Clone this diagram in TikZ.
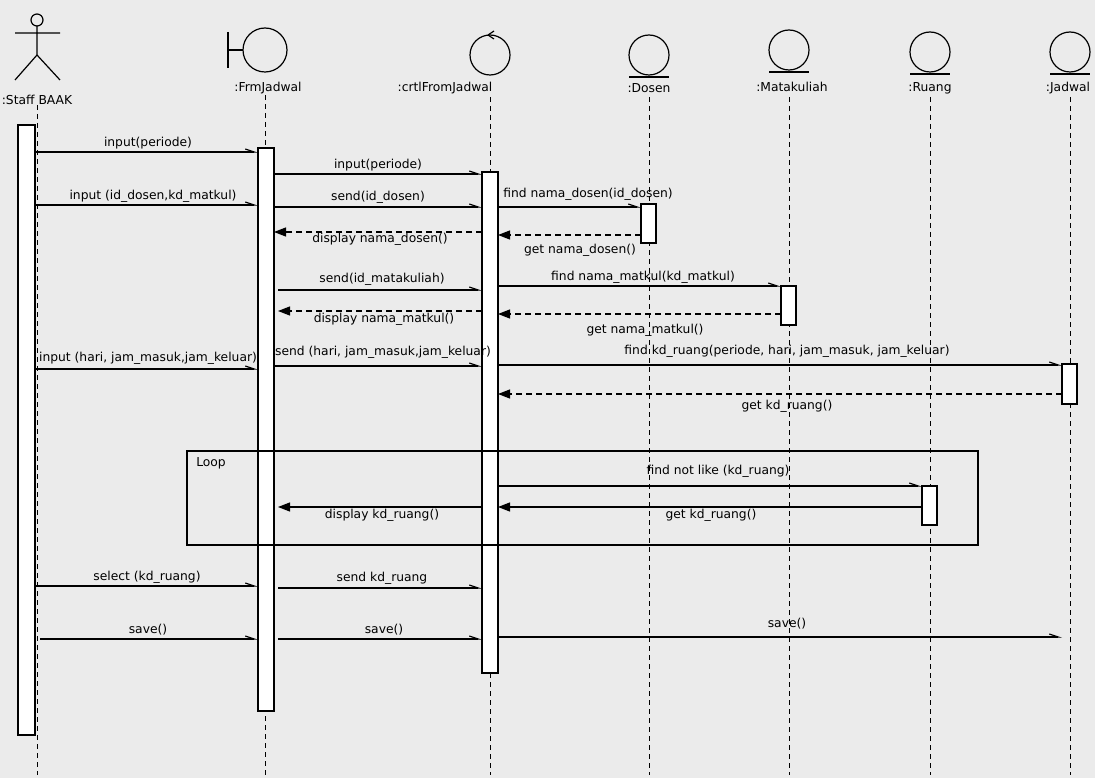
\documentclass[tikz,border=0pt]{standalone}
\usepackage{fontspec}
\setmainfont{DejaVu Sans}
\usetikzlibrary{arrows.meta}
\begin{document}
\begin{tikzpicture}[x=1pt,y=-1pt,line width=1.2pt,
  lbl/.style={font=\fontsize{12.3}{14}\selectfont,inner sep=0pt},
  life/.style={dashed,dash pattern=on 5pt off 4pt,line width=0.8pt},
  act/.style={draw,fill=white,line width=1.2pt},
  sync/.style={-{Straight Barb[length=9pt,width=6pt,left]}},
  ret/.style={dashed,dash pattern=on 6pt off 4pt,-{Triangle[length=12pt,width=9pt]}},
  rets/.style={-{Triangle[length=12pt,width=9pt]}}]
\fill[black!8] (0,0) rectangle (1095,778);
\useasboundingbox (0,0) rectangle (1095,778);
% lifelines
\foreach \x/\t in {37/105,265/95,490/97,649/97,789/97,930/97,1070/97}
  \draw[life] (\x,\t) -- (\x,775);
% actor
\draw (37,20) circle (6);
\draw (37,26) -- (37,55) (15,33) -- (60,33) (15,80) -- (37,55) -- (60,80);
\node[lbl] (staff) at (37,100) {:Staff BAAK};
% boundary
\draw (265,50) circle (22);
\draw (228,32) -- (228,68) (228,50) -- (243,50);
\node[lbl] (frm) at (268,88) {:FrmJadwal};
% control
\draw (490,55) circle (20);
\draw (488,35) -- (494,31) (488,35) -- (494,39);
\node[lbl] (ctrl) at (445,88) {:crtlFromJadwal};
% entities
\foreach \x/\n/\yy/\ly in {649/Dosen/55/88,789/Matakuliah/50/87,930/Ruang/52/88,1070/Jadwal/52/88}{
  \draw (\x,\yy) circle (20);
  \draw (\x-20,\yy+22) -- (\x+20,\yy+22);
}
\node[lbl] (dos) at (649,88) {:Dosen};
\node[lbl] (mk) at (792,87) {:Matakuliah};
\node[lbl] (ru) at (930,88) {:Ruang};
\node[lbl] (jd) at (1068,88) {:Jadwal};
% activations
\draw[act] (18,125) rectangle (35,735);
\draw[act] (258,148) rectangle (274,711);
\draw[act] (482,172) rectangle (498,673);
\draw[act] (641,204) rectangle (656,243);
\draw[act] (781,286) rectangle (796,325);
\draw[act] (1062,364) rectangle (1077,404);
\draw[act] (922,486) rectangle (937,525);
\draw (258,275) -- (258,312);
% messages
\newcommand\msg[6]{\draw[#6] (#2,#1) -- (#3,#1); \node[lbl] at #4 {#5};}
\msg{152}{35}{258}{(148,143)}{input(periode)}{sync}
\msg{174}{274}{482}{(378,165)}{input(periode)}{sync}
\msg{205}{35}{258}{(153,196)}{input (id\_dosen,kd\_matkul)}{sync}
\msg{207}{274}{482}{(378,197)}{send(id\_dosen)}{sync}
\msg{207}{498}{641}{(588,194)}{find nama\_dosen(id\_dosen)}{sync}
\msg{232}{482}{274}{(380,239)}{display nama\_dosen()}{ret}
\msg{235}{641}{498}{(580,250)}{get nama\_dosen()}{ret}
\msg{290}{278}{482}{(382,279)}{send(id\_matakuliah)}{sync}
\msg{286}{498}{781}{(643,277)}{find nama\_matkul(kd\_matkul)}{sync}
\msg{311}{482}{278}{(384,319)}{display nama\_matkul()}{ret}
\msg{314}{781}{498}{(645,330)}{get nama\_matkul()}{ret}
\msg{369}{35}{258}{(148,358)}{input (hari, jam\_masuk,jam\_keluar)}{sync}
\msg{366}{274}{482}{(383,352)}{send (hari, jam\_masuk,jam\_keluar)}{sync}
\msg{365}{498}{1062}{(787,351)}{find kd\_ruang(periode, hari, jam\_masuk, jam\_keluar)}{sync}
\msg{394}{1062}{498}{(787,406)}{get kd\_ruang()}{ret}
\draw (187,451) rectangle (978,545);
\node[lbl] (loop) at (211,463) {Loop};
\msg{486}{498}{922}{(718,471)}{find not like (kd\_ruang)}{sync}
\msg{507}{482}{278}{(382,515)}{display kd\_ruang()}{rets}
\msg{507}{922}{498}{(711,515)}{get kd\_ruang()}{rets}
\msg{586}{35}{258}{(147,577)}{select (kd\_ruang)}{sync}
\msg{588}{278}{482}{(382,578)}{send kd\_ruang}{sync}
\msg{639}{40}{258}{(148,630)}{save()}{sync}
\msg{639}{278}{482}{(384,630)}{save()}{sync}
\msg{637}{498}{1062}{(787,624)}{save()}{sync}
\end{tikzpicture}
\end{document}
